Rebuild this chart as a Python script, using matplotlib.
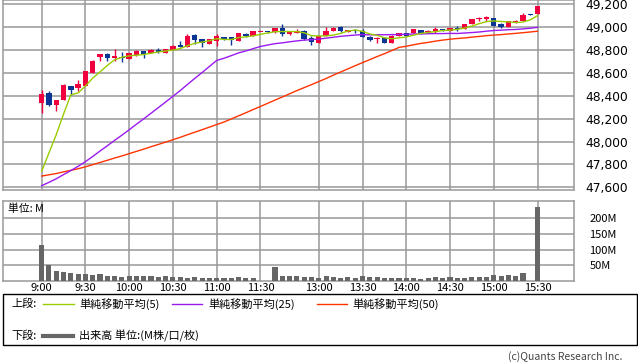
import matplotlib
matplotlib.use('Agg')
import matplotlib.pyplot as plt
from matplotlib.patches import Rectangle
from matplotlib.lines import Line2D
import numpy as np

plt.rcParams['font.family'] = ['Noto Sans CJK JP', 'DejaVu Sans']

# ---------------- data ----------------
tick_pos = [0, 6, 12, 18, 24, 30, 38, 44, 50, 56, 62, 68]
tick_labels = ['9:00', '9:30', '10:00', '10:30', '11:00', '11:30',
               '13:00', '13:30', '14:00', '14:30', '15:00', '15:30']
price_ticks = [47600, 47800, 48000, 48200, 48400, 48600, 48800, 49000, 49200]
vol_ticks = [50, 100, 150, 200]
vol_tick_labels = ['50M', '100M', '150M', '200M']

opens = [48334, 48428, 48320, 48364, 48486, 48466, 48489, 48604, 48736, 48766,
         48734, 48744, 48723, 48760, 48790, 48772, 48799, 48778, 48801, 48839,
         48830, 48930, 48895, 48854, 48876, 48915, 48912, 48880, 48941, 48926,
         48957, 48961, 48959, 48994, 48941, 48954, 48968, 48909, 48865, 48928,
         48968, 49005, 48961, 48974, 48970, 48918, 48895, 48909, 48867, 48926,
         48947, 48947, 48976, 48956, 48961, 48985, 48969, 48993, 48989, 49029,
         49070, 49075, 49079, 49032, 49005, 49044, 49055, 49116, 49114]
highs = [48451, 48442, 48364, 48504, 48486, 48539, 48620, 48716, 48766, 48778,
         48810, 48784, 48775, 48797, 48790, 48813, 48816, 48813, 48842, 48880,
         48939, 48941, 48895, 48900, 48941, 48917, 48912, 48950, 48954, 48968,
         48963, 48963, 48997, 49025, 48966, 48982, 48976, 48924, 48930, 49005,
         49000, 49014, 48978, 48985, 48982, 48920, 48912, 48912, 48932, 48952,
         48952, 48987, 48980, 48975, 49000, 48988, 48998, 49011, 49032, 49073,
         49087, 49101, 49085, 49040, 49058, 49060, 49128, 49117, 49186]
lows = [48252, 48311, 48270, 48364, 48407, 48442, 48485, 48604, 48701, 48701,
        48705, 48692, 48720, 48749, 48729, 48772, 48778, 48778, 48801, 48830,
        48830, 48854, 48832, 48850, 48834, 48893, 48845, 48880, 48911, 48926,
        48955, 48953, 48950, 48924, 48930, 48950, 48889, 48849, 48865, 48928,
        48968, 48963, 48959, 48953, 48911, 48884, 48865, 48865, 48867, 48926,
        48920, 48947, 48945, 48952, 48947, 48970, 48965, 48968, 48989, 49029,
        49051, 49058, 49010, 48998, 49002, 49040, 49055, 49107, 49114]
closes = [48417, 48317, 48364, 48495, 48451, 48504, 48617, 48708, 48766, 48734,
          48751, 48729, 48771, 48795, 48766, 48804, 48784, 48810, 48839, 48832,
          48928, 48893, 48863, 48895, 48924, 48895, 48889, 48947, 48928, 48965,
          48961, 48955, 48994, 48940, 48963, 48965, 48898, 48869, 48926, 48968,
          48998, 48970, 48976, 48968, 48911, 48886, 48909, 48867, 48928, 48950,
          48926, 48983, 48947, 48970, 48985, 48975, 48996, 48983, 49029, 49071,
          49081, 49087, 49014, 49000, 49053, 49055, 49108, 49108, 49186]
volumes = [116, 51, 33, 28, 24, 22, 22, 18, 22, 16,
           16, 12.5, 16, 15, 15, 15, 12.5, 15, 13, 13,
           10, 12, 10, 10, 10, 10, 10, 12, 9, 9,
           1, 0, 45, 15, 15, 15, 12.5, 12.5, 9, 15,
           12.5, 9, 12, 9, 15, 12, 12, 9, 9, 9,
           9, 9, 6, 9, 12, 9, 12, 9, 9, 12,
           12, 12, 19, 15, 19, 15, 25, 1, 236]
ma5 = [47740, 47900, 48060, 48240, 48409, 48426, 48486, 48555, 48609, 48666,
       48715, 48738, 48750, 48756, 48762, 48773, 48784, 48792, 48801, 48814,
       48839, 48860, 48871, 48882, 48901, 48894, 48893, 48910, 48917, 48925,
       48938, 48951, 48961, 48963, 48963, 48963, 48952, 48927, 48924, 48925,
       48932, 48946, 48968, 48976, 48965, 48942, 48930, 48908, 48900, 48908,
       48916, 48931, 48947, 48955, 48962, 48972, 48975, 48982, 48994, 49011,
       49032, 49050, 49056, 49051, 49047, 49042, 49046, 49065, 49102]
ma25 = [47614, 47643, 47674, 47711, 47746, 47783, 47824, 47869, 47917, 47963,
        48010, 48056, 48103, 48152, 48199, 48248, 48297, 48346, 48396, 48446,
        48500, 48553, 48604, 48657, 48710, 48729, 48752, 48776, 48793, 48813,
        48832, 48845, 48857, 48864, 48873, 48881, 48888, 48892, 48897, 48905,
        48913, 48921, 48927, 48932, 48936, 48934, 48935, 48935, 48936, 48937,
        48938, 48942, 48942, 48944, 48945, 48945, 48947, 48946, 48950, 48954,
        48959, 48966, 48972, 48975, 48979, 48981, 48986, 48992, 49000]
ma50 = [47698, 47709, 47720, 47735, 47748, 47762, 47779, 47798, 47817, 47836,
        47856, 47874, 47894, 47914, 47934, 47955, 47975, 47995, 48016, 48037,
        48060, 48082, 48104, 48126, 48149, 48171, 48198, 48225, 48252, 48280,
        48307, 48335, 48363, 48390, 48418, 48446, 48472, 48498, 48525, 48552,
        48581, 48609, 48636, 48664, 48691, 48717, 48744, 48769, 48796, 48824,
        48834, 48847, 48859, 48868, 48879, 48888, 48896, 48902, 48907, 48914,
        48920, 48927, 48932, 48936, 48942, 48947, 48953, 48959, 48966]

# ---------------- style ----------------
RED = '#F0003C'
BLUE = '#0A3595'
C_MA5 = '#99CC00'
C_MA25 = '#9A1AF0'
C_MA50 = '#FF3300'
GRID = '#999999'
VOLC = '#666666'

W, H = 638, 362
fig = plt.figure(figsize=(W / 100, H / 100), dpi=100)
fig.patch.set_facecolor('white')

ax = fig.add_axes([3 / W, 1 - 190 / H, 571 / W, 190 / H])
axv = fig.add_axes([3 / W, 1 - 281 / H, 571 / W, 80 / H])

x = np.arange(len(opens))
o = np.array(opens, float)
c = np.array(closes, float)
hi = np.array(highs, float)
lo = np.array(lows, float)
cols = [RED if cc >= oo else BLUE for oo, cc in zip(o, c)]

# main panel
ax.set_xlim(-5.3, 73.0)
ax.set_ylim(47576, 49239)
ax.set_xticks(tick_pos)
ax.set_yticks(price_ticks)
ax.grid(True, color=GRID, lw=1.1, zorder=0)
ax.set_axisbelow(True)
ax.vlines(x, lo, hi, colors=cols, lw=1.0, zorder=2)
body_bottom = np.minimum(o, c)
body_h = np.maximum(np.abs(c - o), 9)
ax.bar(x, body_h, bottom=body_bottom, width=0.74, color=cols, lw=0, zorder=3)
ax.plot(x, ma50, color=C_MA50, lw=1.0, zorder=4)
ax.plot(x, ma25, color=C_MA25, lw=1.0, zorder=4)
ax.plot(x, ma5, color=C_MA5, lw=1.0, zorder=5)

ax.yaxis.tick_right()
ax.set_yticklabels([f'{v:,}' for v in price_ticks], family='DejaVu Sans', fontsize=8.8)
ax.tick_params(axis='y', length=0, pad=8)
ax.tick_params(axis='x', length=0, labelbottom=False)
for s in ax.spines.values():
    s.set_color(GRID)
    s.set_linewidth(1.1)

# volume panel
axv.set_xlim(-5.3, 73.0)
axv.set_ylim(0, 255)
axv.bar(x, volumes, width=0.7, color=VOLC, lw=0, zorder=3)
axv.set_xticks(tick_pos)
axv.set_xticklabels(tick_labels, fontsize=8)
axv.set_yticks(vol_ticks)
axv.set_yticklabels(vol_tick_labels, fontsize=8, ha='left')
axv.yaxis.tick_right()
axv.tick_params(axis='y', length=0, pad=11)
axv.tick_params(axis='x', length=0, pad=1.5)
axv.grid(True, color=GRID, lw=1.1, zorder=0)
axv.set_axisbelow(True)
for s in axv.spines.values():
    s.set_color(GRID)
    s.set_linewidth(1.1)
fig.text(8 / W, 1 - 209 / H, '単位: M', fontsize=7.8, va='center', ha='left')

# legend box
fig.add_artist(Rectangle((3 / W, 1 - 345 / H), 634 / W, 51 / H, fill=False,
                         edgecolor='black', lw=1.0, transform=fig.transFigure))
y1 = 1 - 304 / H
y2 = 1 - 336 / H
fig.text(11 / W, y1, '上段:', fontsize=8, va='center')
fig.text(11 / W, y2, '下段:', fontsize=8, va='center')
for (x0, x1, col, lab, tx) in [(43, 74, C_MA5, '単純移動平均(5)', 79),
                               (172, 202, C_MA25, '単純移動平均(25)', 208),
                               (317, 347, C_MA50, '単純移動平均(50)', 352)]:
    fig.add_artist(Line2D([x0 / W, x1 / W], [y1, y1], color=col, lw=1.0,
                          transform=fig.transFigure))
    fig.text(tx / W, y1, lab, fontsize=8, va='center')
fig.add_artist(Line2D([43 / W, 73 / W], [y2, y2], color=VOLC, lw=3.0,
                      transform=fig.transFigure))
fig.text(79 / W, y2, '出来高 単位:(M株/口/枚)', fontsize=8, va='center')
fig.text(622 / W, 1 - 357 / H, '(c)Quants Research Inc.', fontsize=7.5,
         va='center', ha='right', color='#444444')

fig.savefig('out.png', dpi=100)
